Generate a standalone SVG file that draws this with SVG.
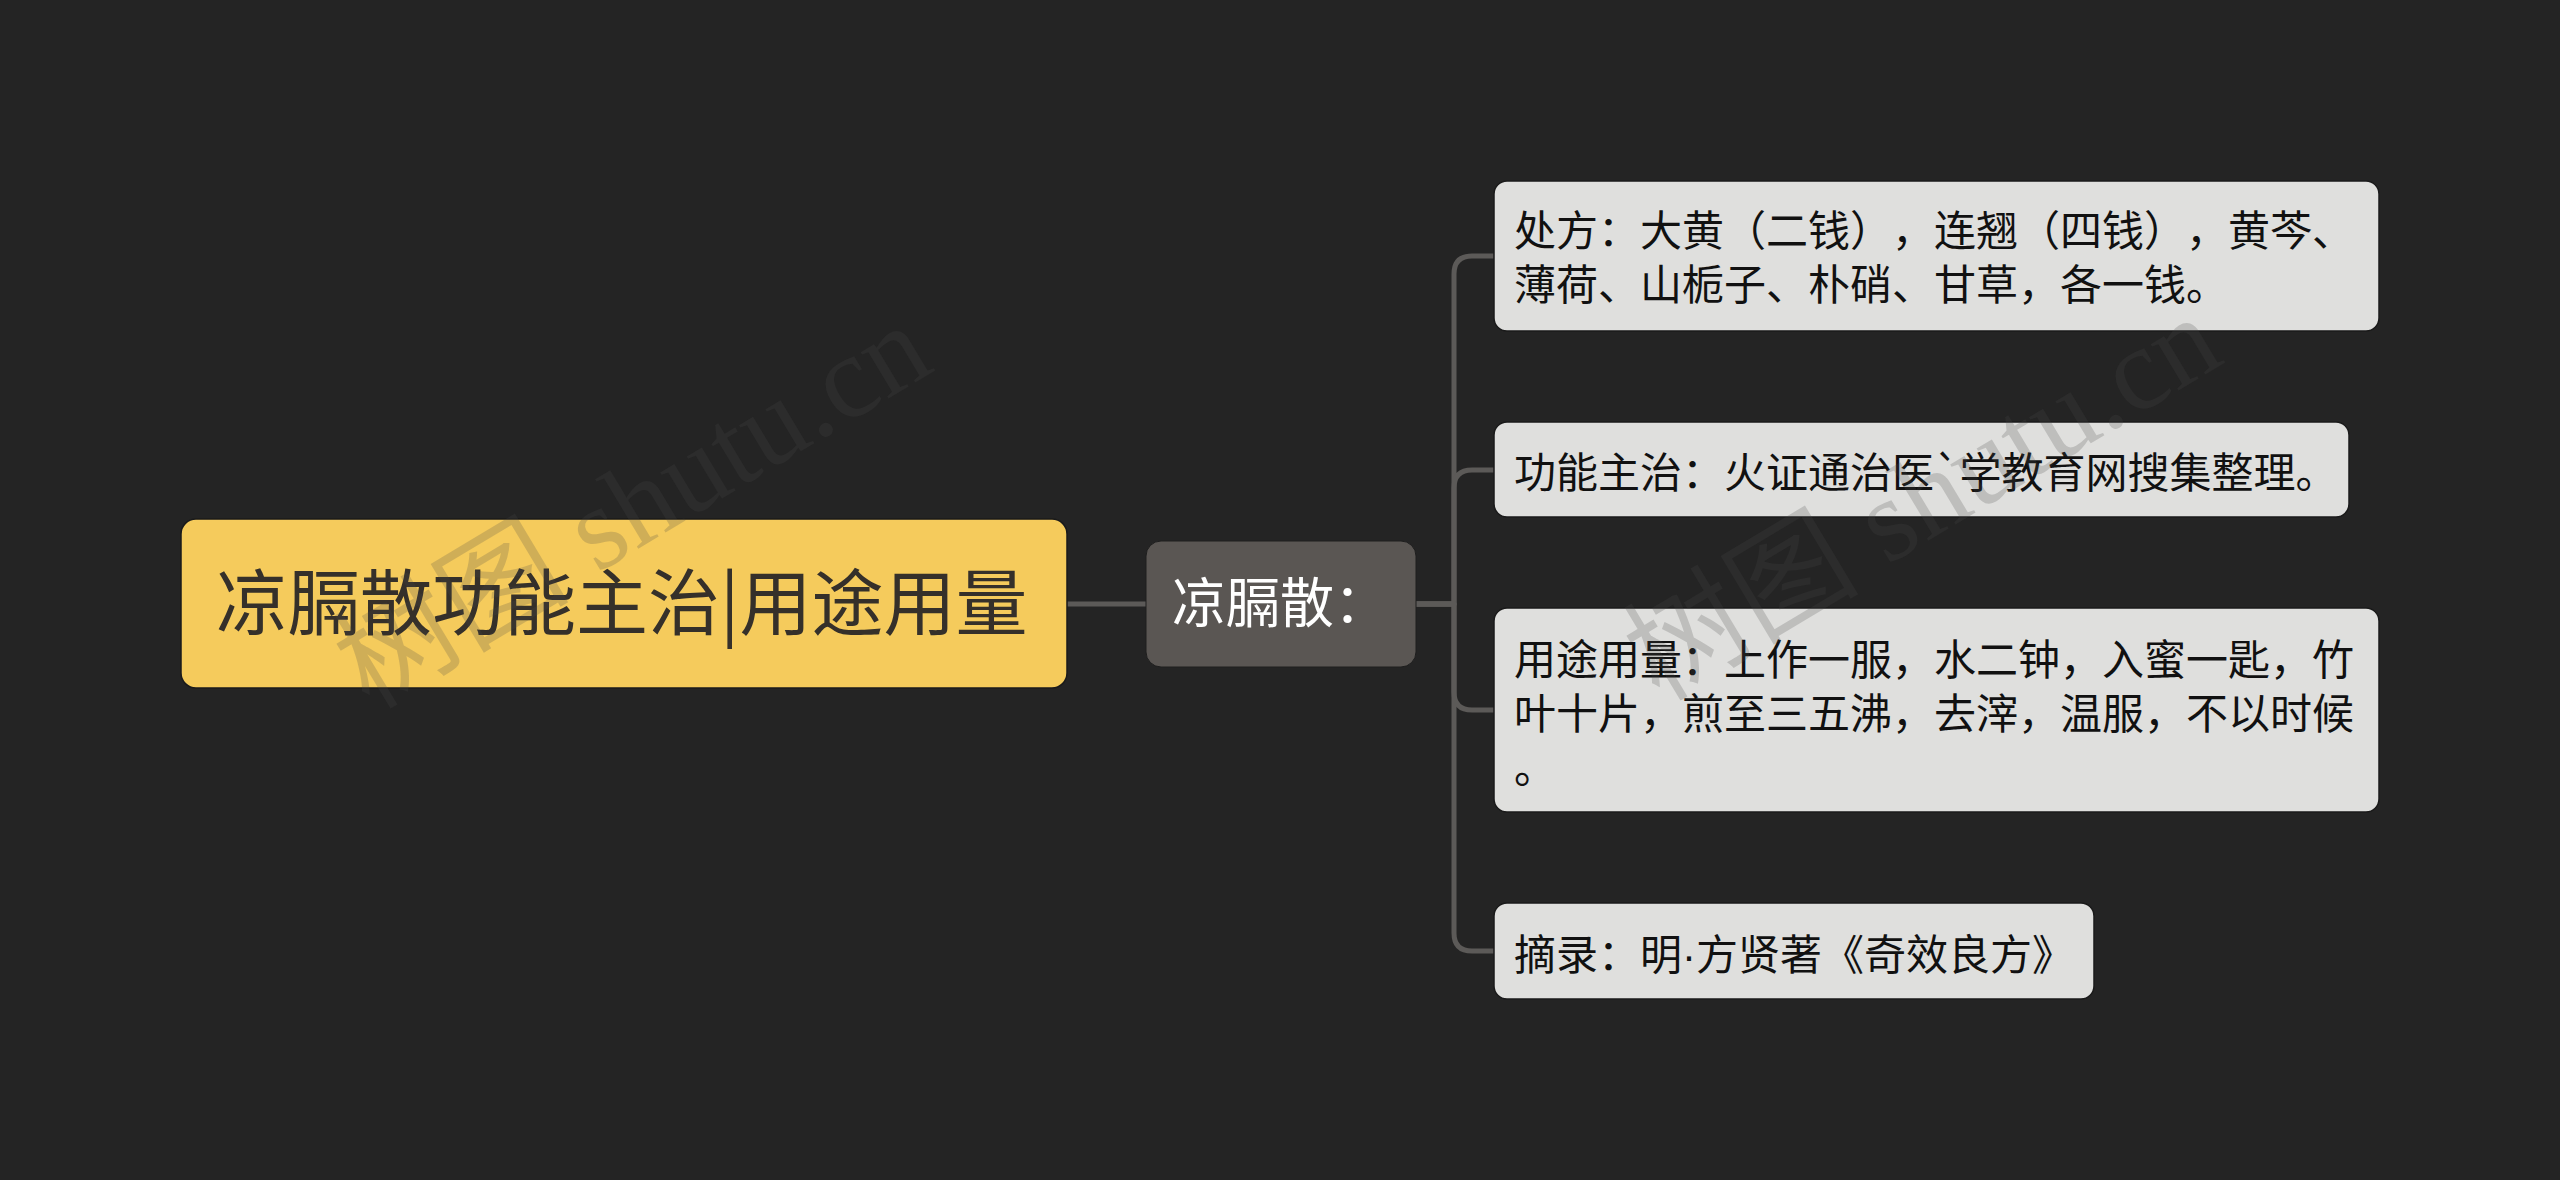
<svg xmlns="http://www.w3.org/2000/svg" width="2560" height="1180" viewBox="0 0 2560 1180">
<defs>
<style>
.conn{fill:none;stroke:#5c5a58;stroke-width:5;stroke-linecap:round;stroke-linejoin:round}
.t{font-family:"Noto Sans CJK SC","Noto Sans",sans-serif;text-spacing-trim:space-all}
.root-box{fill:#f5cb5c;stroke:#1a1a1a;stroke-width:1.5}
.mid-box{fill:#5a5653;stroke:#1e1e1e;stroke-width:1}
.leaf-box{fill:#dfdfdd;stroke:#1a1a1a;stroke-width:1.5}
.leaf-t{font-size:42px;fill:#111111}
.dot{font-family:"Liberation Sans",sans-serif}
.wm{font-family:"Liberation Serif","Noto Sans CJK SC",serif;font-size:118px;fill:#4a4a4a;fill-opacity:0.22}
</style>
</defs>
<rect x="0" y="0" width="2560" height="1180" fill="#242424"/>
<g id="connectors">
<path class="conn" d="M1067,604 H1146"/>
<path class="conn" d="M1416,604 H1454 V274 Q1454,256 1472,256 H1494"/>
<path class="conn" d="M1416,604 H1454 V488 Q1454,470 1472,470 H1494"/>
<path class="conn" d="M1416,604 H1454 V692 Q1454,710 1472,710 H1494"/>
<path class="conn" d="M1416,604 H1454 V933 Q1454,951 1472,951 H1494"/>
</g>
<g id="node-root">
<rect class="root-box" x="181" y="519" width="886" height="169" rx="15"/>
<text class="t" x="216" y="629" font-size="72" fill="#35302a">凉膈散功能主治|用途用量</text>
</g>
<g id="node-mid">
<rect class="mid-box" x="1146" y="541" width="270" height="126" rx="15"/>
<text class="t" x="1172" y="623" font-size="54" fill="#ffffff">凉膈散：</text>
</g>
<g id="node-1">
<rect class="leaf-box" x="1494" y="181" width="885" height="150" rx="13"/>
<text class="t leaf-t" x="1514" y="246">处方：大黄（二钱），连翘（四钱），黄芩、</text>
<text class="t leaf-t" x="1514" y="300">薄荷、山栀子、朴硝、甘草，各一钱。</text>
</g>
<g id="node-2">
<rect class="leaf-box" x="1494" y="422" width="855" height="95" rx="13"/>
<text class="t leaf-t" x="1514" y="488">功能主治：火证通治医`学教育网搜集整理。</text>
</g>
<g id="node-3">
<rect class="leaf-box" x="1494" y="608" width="885" height="204" rx="13"/>
<text class="t leaf-t" x="1514" y="675">用途用量：上作一服，水二钟，入蜜一匙，竹</text>
<text class="t leaf-t" x="1514" y="729">叶十片，煎至三五沸，去滓，温服，不以时候</text>
<text class="t leaf-t" x="1514" y="783">。</text>
</g>
<g id="node-4">
<rect class="leaf-box" x="1494" y="903" width="600" height="96" rx="13"/>
<text class="t leaf-t" x="1514" y="970">摘录：明<tspan class="dot">·</tspan>方贤著《奇效良方》</text>
</g>
<g id="watermark">
<text class="wm" text-anchor="middle" transform="translate(653,540) rotate(-31)">树图 shutu.cn</text>
<text class="wm" text-anchor="middle" transform="translate(1943,532) rotate(-31)">树图 shutu.cn</text>
</g>
</svg>
